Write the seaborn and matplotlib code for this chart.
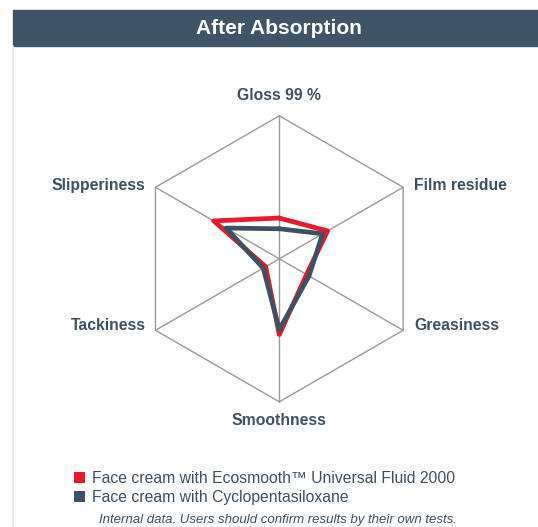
import numpy as np
import pandas as pd
import matplotlib
matplotlib.use("Agg")
import matplotlib.pyplot as plt
from matplotlib.patches import Rectangle, Patch
from matplotlib.lines import Line2D
import seaborn as sns

# ---- data (scale 0-10) ----
attributes = ["Gloss 99 %", "Film residue", "Greasiness", "Smoothness", "Tackiness", "Slipperiness"]
ecosmooth = [2.85, 3.9, 2.2, 5.3, 1.1, 5.3]
cyclo = [2.1, 3.5, 2.4, 4.95, 1.3, 4.3]
series_names = ["Face cream with Ecosmooth\u2122 Universal Fluid 2000",
                "Face cream with Cyclopentasiloxane"]
scale_max = 10

RED = "#e8192c"
DARK = "#3d5163"
GRID = "#9a9a9a"

sns.set_theme(style="white")
plt.rcParams["font.family"] = ["Liberation Sans", "DejaVu Sans"]

W, H, DPI = 538, 527, 100
fig = plt.figure(figsize=(W / DPI, H / DPI), dpi=DPI)
ax = fig.add_axes([0, 0, 1, 1])

# pixel geometry of the chart centre / radius
cx, cy, R = 279.3, 258.8, 143.0
ax.set_xlim(-cx / R, (W - cx) / R)
ax.set_ylim(-(H - cy) / R, cy / R)
ax.set_axis_off()

# angles: start at top, go clockwise
n = len(attributes)
angles = np.deg2rad(90 - 60 * np.arange(n))

# hexagon frame + spokes
hx = np.append(np.cos(angles), np.cos(angles[0]))
hy = np.append(np.sin(angles), np.sin(angles[0]))
ax.plot(hx, hy, color=GRID, lw=1.0, zorder=1)
for a in angles[:3]:
    ax.plot([np.cos(a), -np.cos(a)], [np.sin(a), -np.sin(a)], color=GRID, lw=1.0, zorder=1)

# polygons
rows = []
for name, vals in zip(series_names, [ecosmooth, cyclo]):
    v = np.array(vals + vals[:1]) / scale_max
    a = np.append(angles, angles[0])
    for i, (r, t) in enumerate(zip(v, a)):
        rows.append({"series": name, "order": i, "x": r * np.cos(t), "y": r * np.sin(t)})
df = pd.DataFrame(rows)

sns.lineplot(data=df, x="x", y="y", hue="series", units="series", estimator=None,
             sort=False, palette={series_names[0]: RED, series_names[1]: DARK},
             linewidth=3.4, ax=ax, legend=False, zorder=3)

# axis labels
offsets = [(0, 20, "center"), (11, 1.5, "left"), (11, 5, "left"),
           (0, -19, "center"), (-10, 5, "right"), (-10, 1.5, "right")]
for lab, a, (dx, dy, ha) in zip(attributes, angles, offsets):
    ax.annotate(lab, (np.cos(a), np.sin(a)), xytext=(dx * 0.72, dy * 0.72),
                textcoords="offset points", ha=ha, va="center",
                fontsize=11.3, fontweight="bold", color=DARK)

# title bar
fig.patches.append(Rectangle((13 / W, 1 - 46.3 / H), 525 / W, 36 / H,
                             transform=fig.transFigure, color="#3f5466", zorder=0))
fig.text(279 / W, 1 - 28 / H, "After Absorption", ha="center", va="center",
         color="white", fontsize=15, fontweight="bold")
fig.lines.append(Line2D([13 / W, 13 / W], [0, 1 - 46 / H], transform=fig.transFigure,
                        color="#e4e4e4", lw=1.2))

# legend
handles = [Patch(facecolor=RED, edgecolor="none"), Patch(facecolor=DARK, edgecolor="none")]
fig.legend(handles, series_names, loc="upper left", bbox_to_anchor=(68 / W, 1 - 465 / H),
           frameon=False, fontsize=11.3, handlelength=0.7, handleheight=0.7,
           handletextpad=0.4, labelspacing=0.22, labelcolor=DARK, borderaxespad=0)

fig.text(277.5 / W, 1 - 520 / H, "Internal data. Users should confirm results by their own tests.",
         ha="center", va="center", fontsize=9.5, style="italic", color=DARK)

fig.savefig("out.png", dpi=DPI)
